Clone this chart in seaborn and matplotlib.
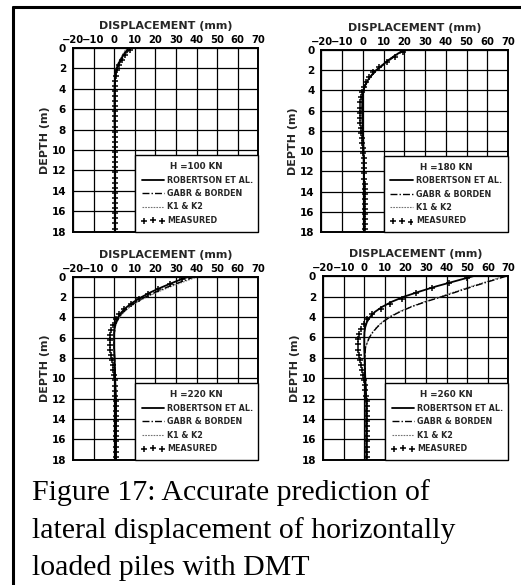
import matplotlib
matplotlib.use("Agg")
import matplotlib.pyplot as plt
from matplotlib.lines import Line2D
import seaborn as sns
import pandas as pd

sns.set_theme(style="white")
plt.rcParams["font.family"] = ["DejaVu Sans"]

# ---- data ----
loads = ["H =100 KN", "H =180 KN", "H =220 KN", "H =260 KN"]

curve_depth = [0, 0.5, 1, 1.5, 2, 2.5, 3, 3.5, 4, 4.5, 5, 5.5, 6, 7, 8, 10, 12, 14, 16, 18]

rob_100 = [7, 5.2, 3.6, 2.2, 1.2, 0.7, 0.4, 0.3, 0.2, 0.2, 0.2, 0.2, 0.2, 0.2, 0.3, 0.4, 0.5, 0.5, 0.5, 0.5]
gab_100 = [8, 6.0, 4.2, 2.6, 1.4, 0.8, 0.5, 0.3, 0.2, 0.2, 0.2, 0.2, 0.2, 0.2, 0.3, 0.4, 0.5, 0.5, 0.5, 0.5]
k12_100 = [6, 4.5, 3.1, 1.9, 1.0, 0.6, 0.4, 0.3, 0.2, 0.2, 0.2, 0.2, 0.2, 0.2, 0.3, 0.4, 0.5, 0.5, 0.5, 0.5]

rob_180 = [20, 16, 12.5, 9.5, 6.5, 4.2, 2.4, 1.1, 0.3, -0.1, -0.3, -0.3, -0.3, -0.2, 0, 0.3, 0.5, 0.5, 0.5, 0.5]
gab_180 = [20.5, 16.5, 13, 9.8, 6.8, 4.4, 2.5, 1.2, 0.4, 0, -0.2, -0.3, -0.3, -0.2, 0, 0.3, 0.5, 0.5, 0.5, 0.5]
k12_180 = [19.5, 15.7, 12.2, 9.2, 6.3, 4.0, 2.3, 1.0, 0.3, -0.1, -0.3, -0.3, -0.3, -0.2, 0, 0.3, 0.5, 0.5, 0.5, 0.5]

rob_220 = [36, 29.5, 23.5, 18, 13.3, 9.3, 6, 3.5, 1.8, 0.8, 0.2, 0, 0, 0, 0.2, 0.5, 0.8, 0.8, 0.8, 0.8]
gab_220 = [39, 32.5, 26, 20.3, 15, 10.6, 7, 4.3, 2.3, 1.1, 0.4, 0.1, 0, 0, 0.2, 0.5, 0.8, 0.8, 0.8, 0.8]
k12_220 = [40.5, 33.8, 27.2, 21.2, 15.8, 11.2, 7.5, 4.7, 2.6, 1.3, 0.5, 0.2, 0, 0, 0.2, 0.5, 0.8, 0.8, 0.8, 0.8]

rob_260 = [53, 44, 35, 27, 19.5, 13.5, 8.8, 5.2, 2.8, 1.3, 0.5, 0.1, 0, 0, 0.2, 0.5, 1, 1, 1, 1]
gab_260 = [69, 61, 53, 45.5, 38, 30, 23, 17.3, 12.5, 9, 6.3, 4.2, 2.5, 0.6, 0.3, 0.5, 1, 1, 1, 1]
k12_260 = [68, 60, 52, 44.5, 37, 29.3, 22.5, 16.8, 12, 8.6, 6, 4, 2.3, 0.5, 0.3, 0.5, 1, 1, 1, 1]

meas_depth = [0.2, 0.7, 1.2, 1.7, 2.2, 2.7, 3.2, 3.7, 4.2, 4.7, 5.2, 5.7, 6.2, 6.7, 7.2, 7.7,
              8.2, 8.7, 9.2, 9.7, 10.2, 10.7, 11.2, 11.7, 12.2, 12.7, 13.2, 13.7, 14.2,
              14.7, 15.2, 15.7, 16.2, 16.7, 17.2, 17.7]

meas_100 = [7.5, 5.5, 4, 2.3, 1.2, 0.8, 0.5, 0.3, 0.2, 0.2, 0.3, 0.3, 0.3, 0.3, 0.3, 0.3,
            0.3, 0.4, 0.4, 0.4, 0.5, 0.5, 0.5, 0.5, 0.6, 0.6, 0.6, 0.6, 0.6,
            0.6, 0.6, 0.6, 0.6, 0.6, 0.6, 0.6]
meas_180 = [19.5, 15.5, 11.5, 8, 5, 3, 1.5, 0.5, -0.5, -1, -1.5, -1.5, -1.5, -1.5, -1.2, -1,
            -0.7, -0.5, -0.3, 0, 0.2, 0.3, 0.5, 0.5, 0.6, 0.7, 0.8, 0.9, 1,
            1, 1, 1, 1, 1, 1, 1]
meas_220 = [33, 27, 21.5, 16.5, 12, 8, 5, 2.5, 1, -0.5, -1.5, -2, -2, -2, -1.8, -1.5,
            -1, -0.7, -0.4, 0, 0.2, 0.4, 0.5, 0.6, 0.7, 0.8, 0.9, 1, 1,
            1, 1, 1, 1, 1, 1, 1]
meas_260 = [50, 41, 33, 25, 18.5, 12.5, 8, 4, 1.5, 0, -1.5, -2.5, -3, -3, -2.8, -2.4,
            -2, -1.5, -1, -0.5, 0, 0.3, 0.6, 0.9, 1.1, 1.2, 1.3, 1.4, 1.5,
            1.5, 1.5, 1.5, 1.5, 1.5, 1.5, 1.5]

panels = [
    (loads[0], rob_100, gab_100, k12_100, meas_100),
    (loads[1], rob_180, gab_180, k12_180, meas_180),
    (loads[2], rob_220, gab_220, k12_220, meas_220),
    (loads[3], rob_260, gab_260, k12_260, meas_260),
]

x_ticks = [-20, -10, 0, 10, 20, 30, 40, 50, 60, 70]
y_ticks = [0, 2, 4, 6, 8, 10, 12, 14, 16, 18]
series_names = ["ROBERTSON ET AL.", "GABR & BORDEN", "K1 & K2", "MEASURED"]

# ---- figure ----
fig = plt.figure(figsize=(5.21, 5.85), dpi=100)
fig.patch.set_facecolor("white")

positions = [
    [0.140, 0.604, 0.356, 0.314],
    [0.617, 0.603, 0.358, 0.312],
    [0.140, 0.214, 0.356, 0.313],
    [0.620, 0.214, 0.356, 0.314],
]

tfont = dict(family="DejaVu Sans", weight="bold")
narrow = ["Liberation Sans Narrow", "DejaVu Sans"]

for pos, (load, rob, gab, k12, meas) in zip(positions, panels):
    ax = fig.add_axes(pos)
    curves = pd.DataFrame({"depth": curve_depth, "rob": rob, "gab": gab, "k12": k12})
    mdf = pd.DataFrame({"depth": meas_depth, "disp": meas})

    sns.lineplot(data=curves, x="k12", y="depth", orient="y", ax=ax, color="0.45",
                 linestyle=(0, (1.5, 1)), linewidth=0.8, label=series_names[2])
    sns.lineplot(data=curves, x="gab", y="depth", orient="y", ax=ax, color="black",
                 linestyle=(0, (5, 1.5, 1, 1.5)), linewidth=1.0, label=series_names[1])
    sns.lineplot(data=curves, x="rob", y="depth", orient="y", ax=ax, color="black",
                 linewidth=1.3, label=series_names[0])
    sns.scatterplot(data=mdf, x="disp", y="depth", ax=ax, color="black",
                    marker="+", s=18, linewidth=1.1, label=series_names[3], zorder=3)

    ax.set_xlim(-20, 70)
    ax.set_ylim(18, 0)
    ax.set_xticks(x_ticks)
    ax.set_yticks(y_ticks)
    ax.xaxis.tick_top()
    ax.xaxis.set_label_position("top")
    ax.tick_params(axis="x", length=0, pad=2, labelsize=7.2, colors="black")
    ax.tick_params(axis="y", length=0, pad=5, labelsize=7.5, colors="black")
    for lab in ax.get_xticklabels() + ax.get_yticklabels():
        lab.set_fontweight("bold")
    ax.grid(True, color="black", linewidth=0.9)
    ax.set_axisbelow(True)
    for sp in ax.spines.values():
        sp.set_color("black")
        sp.set_linewidth(1.4)
    ax.set_xlabel("DISPLACEMENT (mm)", fontsize=8, labelpad=4.5, **tfont)
    ax.set_ylabel("DEPTH (m)", fontsize=8, labelpad=1, **tfont)

    handles, labels = ax.get_legend_handles_labels()
    order = [labels.index(n) for n in series_names]
    leg = ax.legend([handles[i] for i in order], [labels[i] for i in order],
                    title=load, loc="lower left", bbox_to_anchor=(0.333, 0.0, 0.667, 0.444),
                    mode="expand", scatterpoints=3, handlelength=2.8, handletextpad=0.4,
                    borderpad=0.85, borderaxespad=0.0, labelspacing=0.55,
                    fancybox=False, framealpha=1, edgecolor="black", facecolor="white",
                    prop=dict(size=5.8, weight="bold", family=narrow))
    leg.get_title().set_fontsize(6.3)
    leg.get_title().set_fontweight("bold")
    leg.get_title().set_family(narrow)
    leg.get_frame().set_linewidth(1.0)
    leg.set_zorder(5)

# page border (top and left edge of the scanned box)
fig.add_artist(Line2D([0.025, 1.0], [0.988, 0.988], color="black", linewidth=2.2))
fig.add_artist(Line2D([0.025, 0.025], [0.0, 0.988], color="black", linewidth=2.2))

caption = ["Figure 17: Accurate prediction of",
           "lateral displacement of horizontally",
           "loaded piles with DMT"]
for i, line in enumerate(caption):
    fig.text(0.062, 1 - (500 + 37.5 * i) / 585, line, fontsize=21.5,
             family="Liberation Serif", color="black", va="baseline", ha="left")

fig.savefig("out.png", dpi=100, facecolor="white")
